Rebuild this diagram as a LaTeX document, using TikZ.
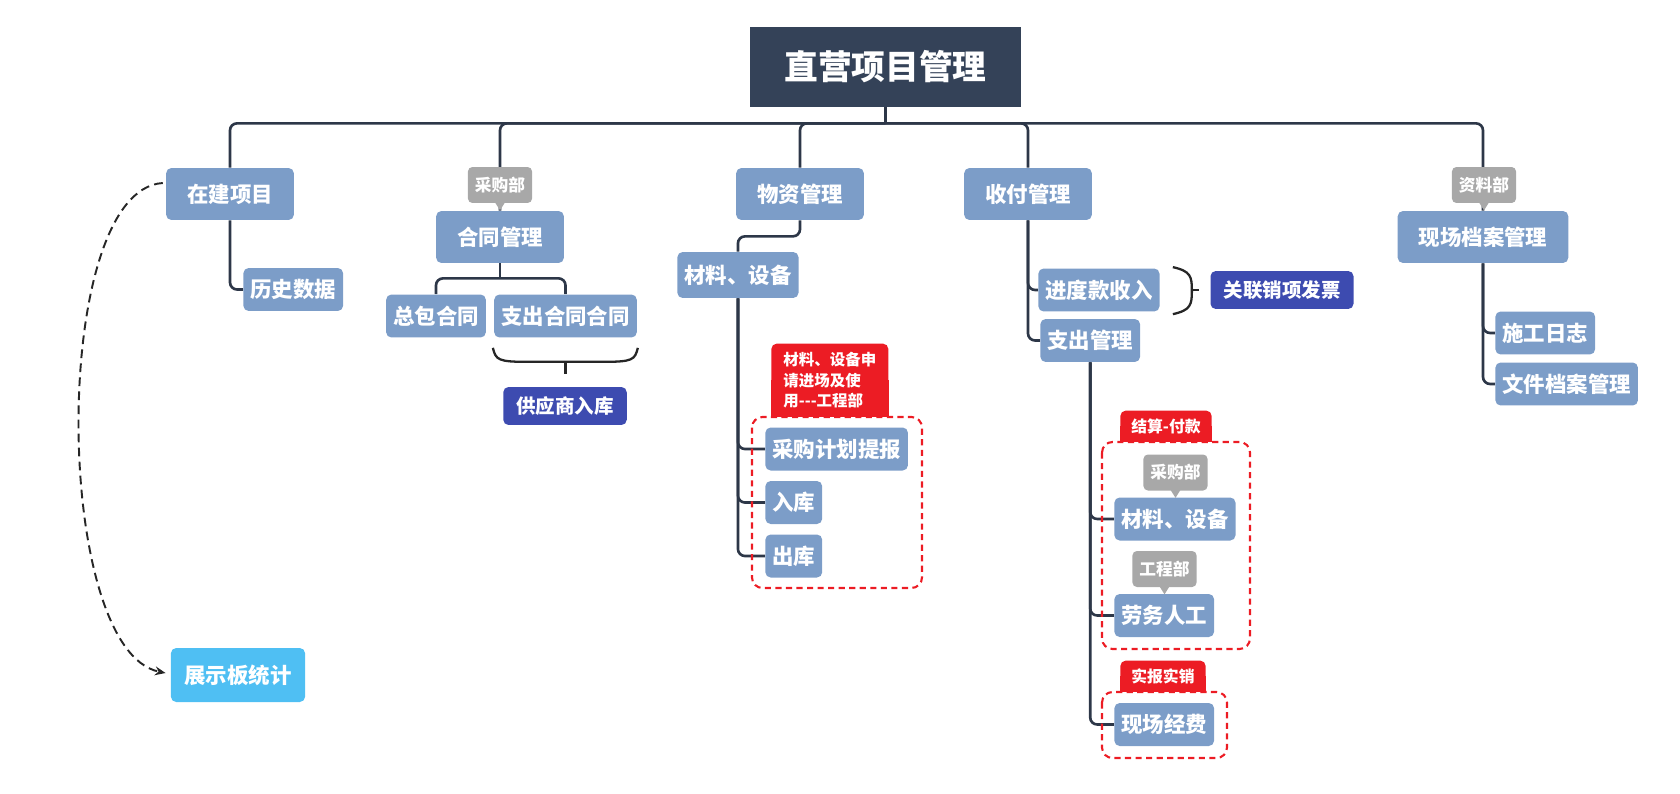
\documentclass[tikz,border=0pt]{standalone}
\usepackage{fontspec}
\setmainfont{Noto Sans CJK SC}
\usetikzlibrary{calc,arrows.meta}

\definecolor{rootc}{RGB}{52,66,88}
\definecolor{topicc}{RGB}{124,157,200}
\definecolor{linec}{RGB}{45,55,72}
\definecolor{deepc}{RGB}{61,75,176}
\definecolor{skyc}{RGB}{79,191,243}
\definecolor{notec}{RGB}{168,168,168}
\definecolor{tagc}{RGB}{236,28,36}

\pgfdeclarelayer{bg}
\pgfsetlayers{bg,main}

\begin{document}
\begin{tikzpicture}[x=0.02cm,y=-0.02cm,
	rootbox/.style={fill=rootc,text=white,font=\bfseries\fontsize{19.2}{22}\selectfont,minimum width=5.42cm,minimum height=1.6cm,inner sep=0pt},
	topic/.style={fill=topicc,text=white,rounded corners=3pt,font=\bfseries\fontsize{12.2}{14}\selectfont,inner xsep=0.42cm,inner ysep=0pt,minimum height=1.04cm},
	sub/.style={topic,inner xsep=0.14cm,minimum height=0.86cm,anchor=west},
	linked/.style={topic,fill=deepc,font=\bfseries\fontsize{11.1}{13}\selectfont,inner xsep=0.26cm,minimum height=0.76cm},
	board/.style={topic,fill=skyc,inner xsep=0.27cm,minimum height=1.08cm},
	note/.style={fill=notec,text=white,rounded corners=2.5pt,font=\bfseries\fontsize{9.5}{11}\selectfont,inner xsep=0.14cm,inner ysep=0pt,minimum height=0.72cm},
	tag/.style={fill=tagc,text=white,rounded corners=3pt,font=\bfseries\fontsize{9}{11}\selectfont,inner xsep=0.22cm,inner ysep=0pt,minimum height=0.62cm,anchor=south west},
	dbox/.style={draw=tagc,line width=1.2pt,dash pattern=on 3.5pt off 2.5pt,rounded corners=6pt},
	conn/.style={draw=linec,line width=1.5pt,rounded corners=4pt},
	brace/.style={draw=black!85,line width=1.3pt},
	jump/.style={draw=black!85,line width=1.1pt,dash pattern=on 5pt off 3pt,-{Stealth[length=6pt,width=5pt]}}]

\useasboundingbox (0,0) rectangle (1680,794);

%main topics
\node[rootbox](root) at (885.5,67){直营项目管理};
\node[topic](zaijian) at (230,194){在建项目};
\node[topic](hetong) at (500,237){合同管理};
\node[topic](wuzi) at (800,194){物资管理};
\node[topic](shoufu) at (1028,194){收付管理};
\node[topic](dangan) at (1483,237){现场档案管理};

%sub topics
\node[sub](lishi) at (243,289.5){历史数据};
\node[sub,anchor=center](zongbao) at (436,316){总包合同};
\node[sub,anchor=center](zhichuht) at (565.5,316){支出合同合同};
\node[linked](gongying) at (565,406){供应商入库};
\node[sub,minimum height=0.92cm](cailiaoA) at (677,275){材料、设备};
\node[sub](caigoujh) at (765,449){采购计划提报};
\node[sub](ruku) at (765,502.5){入库};
\node[sub](chuku) at (765,556){出库};
\node[sub](jindu) at (1038,290){进度款收入};
\node[linked](guanlian) at (1282,290){关联销项发票};
\node[sub](zhichu) at (1040,340.5){支出管理};
\node[sub](cailiaoB) at (1114,519){材料、设备};
\node[sub](laowu) at (1114,615.5){劳务人工};
\node[sub](xianchang) at (1114,724.5){现场经费};
\node[sub](shigong) at (1495,333){施工日志};
\node[sub](wenjian) at (1495,384){文件档案管理};
\node[board](zhanshi) at (238,675){展示板统计};

%callouts
\node[note](cgA) at (500,185){采购部};
\node[note](zlA) at (1484,185){资料部};
\node[note](cgB) at (1175.5,472.5){采购部};
\node[note](gcB) at (1164.5,569){工程部};
\foreach \n in {cgA,zlA,cgB,gcB}
{
	\fill[notec] ($(\n.south)+(-5,-1)$) -- ($(\n.south)+(5,-1)$) -- ($(\n.south)+(0,7)$) -- cycle;
}

%red groups
\draw[dbox] (752,417) rectangle (922,588);
\draw[dbox] (1102,442) rectangle (1250,649);
\draw[dbox] (1102,692) rectangle (1227,758);
\node[tag,align=left,font=\bfseries\fontsize{8.8}{11.9}\selectfont,minimum width=2.34cm,minimum height=1.46cm](tagA) at (771,417){材料、设备申\\请进场及使\\用{-}{-}{-}工程部};
\node[tag](tagB) at (1120,442){结算-付款};
\node[tag](tagC) at (1120,692){实报实销};

\begin{pgfonlayer}{bg}
\foreach \n in {tagA,tagB,tagC}
{
	\fill[tagc] (\n.west) rectangle (\n.south east);
}

%tree lines
\coordinate (bus) at ($(root.south)+(0,16)$);
\draw[conn] (root.south) -- (bus);
\draw[conn] (zaijian.north) |- (bus) -| (dangan.north);
\draw[conn] (bus) -| (hetong.north);
\draw[conn] (bus) -| (wuzi.north);
\draw[conn] (bus) -| (shoufu.north);

\draw[conn] (zaijian.south) |- (lishi.west);
\draw[conn] (hetong.south) -- ++(0,15);
\draw[conn] (zongbao.north) |- ($(hetong.south)+(0,15)$) -| (zhichuht.north);
\draw[conn] (wuzi.south) -- ++(0,16) -| (cailiaoA.north);
\foreach \c in {caigoujh,ruku,chuku}
{
	\draw[conn] (cailiaoA.south) |- (\c.west);
}
\draw[conn] (shoufu.south) |- (jindu.west);
\draw[conn] (shoufu.south) |- (zhichu.west);
\foreach \c in {cailiaoB,laowu,xianchang}
{
	\draw[conn] (zhichu.south) |- (\c.west);
}
\draw[conn] (dangan.south) |- (shigong.west);
\draw[conn] (dangan.south) |- (wenjian.west);
\end{pgfonlayer}

%braces
\draw[brace] (zhichuht.south west) ++(-1,10) .. controls ++(3,12) and ++(-30,0) .. ++(35,14) -- ++(75,0) .. controls ++(30,0) and ++(-3,12) .. ++(35,-14);
\draw[brace] ($(zhichuht.south)+(0,24)$) -- ++(0,12);
\draw[brace] ($(jindu.north east)+(13,-1)$) .. controls ++(18,4) and ++(0,-14) .. ++(19,23.5) .. controls ++(0,14) and ++(18,-4) .. ++(-19,23.5);
\draw[brace] ($(jindu.east)+(32,0)$) -- ++(7,0);

%history link
\draw[jump] ($(zaijian.west)+(-3,-11)$) .. controls (50,190) and (52,650) .. ($(zhanshi.west)+(-5,-2)$);
\end{tikzpicture}
\end{document}
